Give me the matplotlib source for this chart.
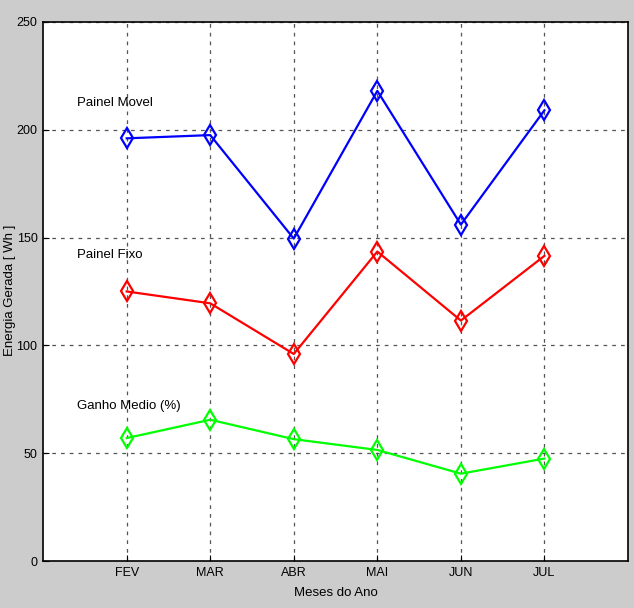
import matplotlib
matplotlib.use("Agg")
import matplotlib.pyplot as plt
from matplotlib import font_manager

names = {f.name for f in font_manager.fontManager.ttflist}
fam = 'Liberation Sans Narrow' if 'Liberation Sans Narrow' in names else 'Liberation Sans'
plt.rcParams['font.family'] = [fam, 'DejaVu Sans']

months = ["FEV", "MAR", "ABR", "MAI", "JUN", "JUL"]
painel_movel = [196, 197.5, 149.5, 218, 156, 209]
painel_fixo = [125, 119.5, 96, 143.5, 111.5, 141.5]
ganho_medio = [57, 65.5, 56.5, 51.5, 40.5, 47.5]
yticks = [0, 50, 100, 150, 200, 250]

fig = plt.figure(figsize=(6.34, 6.08), dpi=100, facecolor='#cccccc')
ax = fig.add_axes([0.068, 0.0773, 0.9225, 0.8867])
ax.set_facecolor('white')
x = list(range(1, len(months) + 1))
for vals, col in [(painel_movel, '#0000ff'), (painel_fixo, '#ff0000'), (ganho_medio, '#00ff00')]:
    ax.plot(x, vals, color=col, lw=1.6, marker='d', ms=10, mfc='none', mec=col, mew=1.6, zorder=3)

ax.set_xlim(0, 7)
ax.set_ylim(0, 250)
ax.set_xticks(x)
ax.set_xticklabels(months)
ax.set_yticks(yticks)
ax.tick_params(direction='in', length=4, labelsize=9, colors='black', pad=4)
ax.grid(True, color='#555555', linestyle=(0, (3, 4)), lw=0.9)
for s in ax.spines.values():
    s.set_linewidth(1.2)
    s.set_color('black')

ax.text(0.4, 211, "Painel Movel", fontsize=9.5)
ax.text(0.4, 140.5, "Painel Fixo", fontsize=9.5)
ax.text(0.4, 70.5, "Ganho Medio (%)", fontsize=9.5)

ax.set_xlabel("Meses do Ano", fontsize=9.5, labelpad=6)
fig.text(0.016, 0.523, "Energia Gerada [ Wh ]", fontsize=9.5,
         rotation=90, ha='center', va='center')

fig.savefig("out.png", dpi=100, facecolor=fig.get_facecolor())
